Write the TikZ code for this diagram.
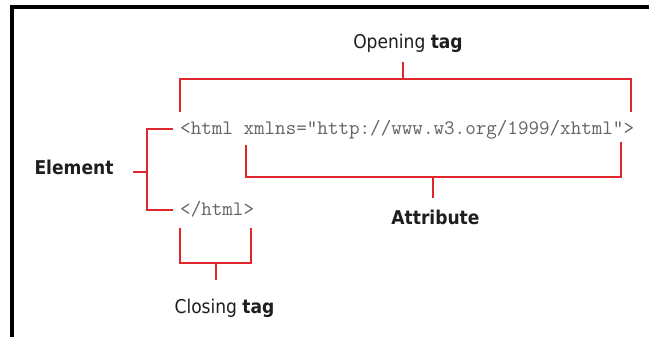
\documentclass[tikz,border=0pt]{standalone}
\usepackage{fontspec}
\setmainfont{DejaVu Sans Condensed}
\definecolor{bracketred}{RGB}{222,40,45}
\definecolor{codegray}{RGB}{100,100,100}
\definecolor{labelblack}{RGB}{30,30,30}
\begin{document}
\begin{tikzpicture}[x=1pt,y=-1pt,
  bracket/.style={draw=bracketred, line width=2.6pt, line cap=butt, line join=miter},
  lbl/.style={inner sep=0pt, anchor=base, font=\fontsize{19}{19}\selectfont, text=labelblack},
  code/.style={inner sep=0pt, anchor=base west, font=\ttfamily\fontsize{20.5}{20}\selectfont, text=codegray}]
\useasboundingbox (0,0) rectangle (649,337);
\fill[white] (0,0) rectangle (649,337);
\draw[line width=4pt, line join=miter] (12,337) -- (12,7) -- (649,7);

% texts
\node[code] (open) at (180,135) {<html xmlns="http://www.w3.org/1999/xhtml">};
\node[code] (close) at (180,215) {</html>};
\node[lbl] (opentag) at (408,49) {Opening \textbf{tag}};
\node[lbl] (element) at (74,175) {\textbf{Element}};
\node[lbl] (attr) at (435.5,224) {\textbf{Attribute}};
\node[lbl] (closetag) at (224.5,313) {Closing \textbf{tag}};

% opening tag bracket
\coordinate (o1) at (180,112); \coordinate (o2) at (631,112);
\coordinate (ot) at (403,62);
\draw[bracket] (o1) -- (180,79) -- (631,79) -- (o2);
\draw[bracket] (403,79) -- (ot);

% element bracket
\coordinate (e1) at (173,129); \coordinate (e2) at (173,210);
\coordinate (et) at (133,172);
\draw[bracket] (e1) -- (147,129) -- (147,210) -- (e2);
\draw[bracket] (147,172) -- (et);

% attribute bracket
\coordinate (a1) at (246,145); \coordinate (a2) at (621,142);
\coordinate (at) at (433,198);
\draw[bracket] (a1) -- (246,177) -- (621,177) -- (a2);
\draw[bracket] (433,177) -- (at);

% closing tag bracket
\coordinate (c1) at (180,228); \coordinate (c2) at (251,228);
\coordinate (ct) at (216,280);
\draw[bracket] (c1) -- (180,263) -- (251,263) -- (c2);
\draw[bracket] (216,263) -- (ct);
\end{tikzpicture}
\end{document}
